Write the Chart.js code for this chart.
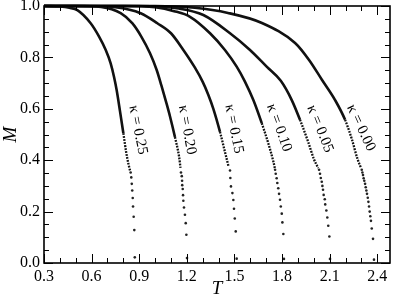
<!DOCTYPE html>
<html>
<head>
<meta charset="utf-8">
<script src="https://cdn.jsdelivr.net/npm/chart.js@4.4.0/dist/chart.umd.min.js"></script>
<style>
	html, body { margin: 0; padding: 0; background: #fff; }
	#wrap { width: 395px; height: 300px; }
</style>
</head>
<body>
<div id="wrap"><canvas id="myChart" width="395" height="300"></canvas></div>
<script>
// axis ticks
var xTicks = [0.3, 0.6, 0.9, 1.2, 1.5, 1.8, 2.1, 2.4];
var yTicks = [0.0, 0.2, 0.4, 0.6, 0.8, 1.0];

// curve labels (kappa) and where they sit (T, M)
var kappas = ["0.25", "0.20", "0.15", "0.10", "0.05", "0.00"];
var labelT = [0.892, 1.201, 1.497, 1.781, 2.039, 2.297];
var labelM = [0.518, 0.518, 0.522, 0.526, 0.522, 0.526];

// kappa = 0.25
var tLine25 = [0.30, 0.40, 0.46, 0.51, 0.594, 0.647, 0.689, 0.720, 0.741, 0.758, 0.779, 0.800, 0.818, 0.834, 0.842];
var mLine25 = [1.000, 0.998, 0.993, 0.984, 0.933, 0.881, 0.829, 0.777, 0.725, 0.672, 0.590, 0.505, 0.430, 0.380, 0.360];
var tDots25 = [0.846, 0.850, 0.853, 0.856, 0.859, 0.861, 0.865, 0.869, 0.872];
var mDots25 = [0.352, 0.333, 0.308, 0.282, 0.253, 0.220, 0.180, 0.128, 0.022];

// kappa = 0.20
var tLine20 = [0.30, 0.50, 0.66, 0.783, 0.856, 0.913, 0.968, 1.010, 1.040, 1.070, 1.094, 1.125, 1.151, 1.160];
var mLine20 = [1.000, 1.000, 0.996, 0.972, 0.933, 0.881, 0.816, 0.751, 0.690, 0.625, 0.570, 0.490, 0.414, 0.370];
var tDots20 = [1.163, 1.168, 1.170, 1.171, 1.174, 1.176, 1.178, 1.182, 1.188, 1.193, 1.197, 1.201];
var mDots20 = [0.352, 0.338, 0.320, 0.303, 0.288, 0.264, 0.242, 0.216, 0.188, 0.155, 0.110, 0.019];

// kappa = 0.15
var tLine15 = [0.30, 0.55, 0.75, 0.909, 1.014, 1.100, 1.178, 1.251, 1.300, 1.335, 1.367, 1.409, 1.441, 1.463];
var mLine15 = [1.000, 1.000, 0.995, 0.972, 0.933, 0.894, 0.829, 0.760, 0.705, 0.655, 0.600, 0.510, 0.430, 0.375];
var tDots15 = [1.472, 1.474, 1.478, 1.487, 1.493, 1.497, 1.502, 1.508, 1.514];
var mDots15 = [0.360, 0.331, 0.298, 0.272, 0.245, 0.211, 0.173, 0.123, 0.017];

// kappa = 0.10
var tLine10 = [0.30, 0.80, 1.00, 1.12, 1.22, 1.346, 1.440, 1.514, 1.566, 1.619, 1.672, 1.713, 1.745, 1.754];
var mLine10 = [1.000, 1.000, 0.995, 0.980, 0.958, 0.894, 0.829, 0.764, 0.706, 0.634, 0.544, 0.466, 0.395, 0.370];
var tDots10 = [1.756, 1.760, 1.766, 1.770, 1.776, 1.781, 1.787, 1.792, 1.798, 1.802, 1.808, 1.812];
var mDots10 = [0.363, 0.347, 0.330, 0.311, 0.291, 0.269, 0.246, 0.220, 0.192, 0.158, 0.113, 0.016];

// kappa = 0.05
var tLine05 = [0.30, 0.90, 1.15, 1.304, 1.472, 1.598, 1.703, 1.792, 1.861, 1.913, 1.965, 2.000, 2.027];
var mLine05 = [1.000, 1.000, 0.990, 0.965, 0.894, 0.829, 0.764, 0.709, 0.634, 0.557, 0.470, 0.405, 0.370];
var tDots05 = [2.033, 2.039, 2.044, 2.050, 2.054, 2.058, 2.062, 2.069, 2.072, 2.079, 2.085, 2.091, 2.098, 2.102];
var mDots05 = [0.363, 0.347, 0.331, 0.316, 0.300, 0.285, 0.265, 0.248, 0.228, 0.204, 0.177, 0.145, 0.103, 0.016];

// kappa = 0.00
var tLine00 = [0.30, 1.00, 1.25, 1.459, 1.673, 1.882, 1.970, 2.052, 2.134, 2.197, 2.241, 2.275, 2.296];
var mLine00 = [1.000, 1.000, 0.993, 0.973, 0.934, 0.856, 0.790, 0.712, 0.634, 0.557, 0.479, 0.405, 0.372];
var tDots00 = [2.302, 2.306, 2.310, 2.314, 2.318, 2.323, 2.327, 2.331, 2.335, 2.340, 2.344, 2.348, 2.352, 2.356, 2.360, 2.365, 2.373, 2.379];
var mDots00 = [0.363, 0.352, 0.342, 0.330, 0.320, 0.308, 0.295, 0.282, 0.269, 0.254, 0.238, 0.220, 0.200, 0.182, 0.164, 0.134, 0.094, 0.013];

var serif = "'Liberation Serif', 'Times New Roman', serif";
var ink = "#111";

function pts(ts, ms) {
	return ts.map((t, i) => ({ x: t, y: ms[i] }));
}

function lineSet(ts, ms) {
	return {
		data: pts(ts, ms),
		showLine: true,
		pointRadius: 0,
		borderColor: ink,
		borderWidth: 2.6,
		cubicInterpolationMode: "monotone",
		clip: 4,
		segment: {
			borderDash: (c) => (c.p0.parsed.y < 0.56 ? [1.8, 1.2] : undefined),
			borderWidth: (c) => (c.p0.parsed.y < 0.56 ? 2.3 : undefined),
		},
	};
}

function dotSet(ts, ms) {
	return {
		data: pts(ts, ms),
		showLine: false,
		pointRadius: 1.3,
		pointBorderWidth: 0,
		pointBackgroundColor: "#222",
		clip: 4,
	};
}

var datasets = [
	lineSet(tLine25, mLine25), dotSet(tDots25, mDots25),
	lineSet(tLine20, mLine20), dotSet(tDots20, mDots20),
	lineSet(tLine15, mLine15), dotSet(tDots15, mDots15),
	lineSet(tLine10, mLine10), dotSet(tDots10, mDots10),
	lineSet(tLine05, mLine05), dotSet(tDots05, mDots05),
	lineSet(tLine00, mLine00), dotSet(tDots00, mDots00),
];

// frame, inward ticks on all four sides, rotated kappa labels
var decor = {
	id: "decor",
	afterDatasetsDraw(chart) {
		var ctx = chart.ctx;
		var a = chart.chartArea;
		var x = chart.scales.x;
		var y = chart.scales.y;
		ctx.save();
		ctx.strokeStyle = "#000";
		ctx.lineWidth = 1;
		ctx.beginPath();
		for (var i = 3; i <= 24; i++) {
			var px = Math.round(x.getPixelForValue(i / 10)) + 0.5;
			var len = i % 3 == 0 ? 9 : 5;
			ctx.moveTo(px, a.bottom); ctx.lineTo(px, a.bottom - len);
			ctx.moveTo(px, a.top); ctx.lineTo(px, a.top + len);
		}
		for (var j = 0; j <= 20; j++) {
			var py = Math.round(y.getPixelForValue(j / 20)) + 0.5;
			var len2 = j % 4 == 0 ? 9 : 5;
			ctx.moveTo(a.left, py); ctx.lineTo(a.left + len2, py);
			ctx.moveTo(a.right, py); ctx.lineTo(a.right - len2, py);
		}
		ctx.stroke();
		ctx.lineWidth = 1.6;
		ctx.strokeRect(a.left, a.top, a.right - a.left, a.bottom - a.top);

		ctx.fillStyle = "#000";
		ctx.font = "15px " + serif;
		ctx.textAlign = "center";
		ctx.textBaseline = "middle";
		var angles = [79, 80, 79, 70, 68, 65];
		kappas.forEach((k, n) => {
			ctx.save();
			ctx.translate(x.getPixelForValue(labelT[n]), y.getPixelForValue(labelM[n]));
			ctx.rotate((angles[n] * Math.PI) / 180);
			ctx.fillText("\u03ba = " + k, 0, 0);
			ctx.restore();
		});
		ctx.restore();
	},
};

var chart = new Chart(document.getElementById("myChart").getContext("2d"), {
	type: "scatter",
	data: { datasets: datasets },
	plugins: [decor],
	options: {
		responsive: false,
		animation: false,
		events: [],
		layout: { padding: { left: 0, top: 6, right: 5, bottom: 0 } },
		plugins: { legend: { display: false }, tooltip: { enabled: false } },
		scales: {
			x: {
				type: "linear",
				min: 0.3,
				max: 2.48,
				afterBuildTicks: (s) => { s.ticks = xTicks.map((v) => ({ value: v })); },
				afterFit: (s) => { s.height = 37; s.paddingLeft = 0; s.paddingRight = 0; },
				grid: { display: false, drawTicks: false },
				border: { display: false },
				ticks: {
					padding: 4,
					color: "#000",
					font: { family: serif, size: 16 },
					callback: (v) => v.toFixed(1),
				},
				title: {
					display: true,
					text: "T",
					color: "#000",
					font: { family: serif, size: 19, style: "italic" },
					padding: { top: 5, bottom: 0 },
				},
			},
			y: {
				type: "linear",
				min: 0,
				max: 1,
				afterBuildTicks: (s) => { s.ticks = yTicks.map((v) => ({ value: v })); },
				afterFit: (s) => { s.width = 44; s.paddingTop = 0; s.paddingBottom = 0; },
				grid: { display: false, drawTicks: false },
				border: { display: false },
				ticks: {
					padding: 4,
					color: "#000",
					font: { family: serif, size: 16 },
					callback: (v) => v.toFixed(1),
				},
				title: {
					display: true,
					text: "M",
					color: "#000",
					font: { family: serif, size: 19, style: "italic" },
					padding: { top: 0, bottom: 0 },
				},
			},
		},
	},
});
</script>
</body>
</html>
